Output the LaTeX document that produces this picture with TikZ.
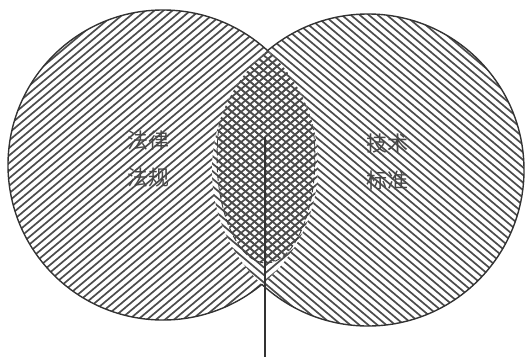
\documentclass[tikz,border=0pt]{standalone}
\usepackage{fontspec}
\newfontfamily\cjk{Noto Sans CJK SC}
\begin{document}
\begin{tikzpicture}[x=1pt,y=-1pt,
  hatch/.style={line width=1.7pt, draw=black!70},
  outline/.style={line width=1.4pt, draw=black!80},
  lbl/.style={font=\cjk\fontsize{21}{37}\selectfont, text=black!72, align=center},
  stem/.style={line width=1.5pt, draw=black!80}]
\useasboundingbox (0,0) rectangle (530,357);
\def\LC{(163,165) circle[radius=155pt]}
\def\RC{(368,170) circle[radius=156pt]}
\def\EL{(266,157) ellipse[x radius=49pt, y radius=106pt]}
\newcommand\hNE{\foreach \i in {-432,-423,...,540} {\draw[hatch] (\i,360) -- ++(428,-360);}}
\newcommand\hNW{\foreach \i in {-432,-423,...,540} {\draw[hatch] (\i,0) -- ++(428,360);}}
% left circle
\begin{scope}
  \clip \LC;
  \hNE
\end{scope}
% right circle (also covers lens left of stem)
\begin{scope}
  \clip \RC;
  \fill[white] \RC;
  \hNW
\end{scope}
% lens right of stem
\begin{scope}
  \clip \LC;
  \clip \RC;
  \clip (265,-10) rectangle (540,370);
  \fill[white] (265,-10) rectangle (540,370);
  \hNE
\end{scope}
% cross-hatched leaf
\begin{scope}
  \clip \LC;
  \clip \RC;
  \clip \EL;
  \hNE
  \hNW
\end{scope}
\begin{scope}
  \clip \LC;
  \clip \RC;
  \draw[line width=0.9pt, black!75, dash pattern=on 6pt off 3pt] \EL;
\end{scope}
% outlines of the union
\begin{scope}[even odd rule]
  \clip (-20,-20) rectangle (560,380) \RC;
  \draw[outline] \LC;
\end{scope}
\begin{scope}[even odd rule]
  \clip (-20,-20) rectangle (560,380) \LC;
  \draw[outline] \RC;
\end{scope}
% stem
\coordinate (stemtop) at (265,137);
\coordinate (stembot) at (265,357);
\draw[stem] (stemtop) -- (stembot);
% labels
\node[lbl] (law) at (148,159) {法律\\法规};
\node[lbl] (tech) at (387,162) {技术\\标准};
\end{tikzpicture}
\end{document}
